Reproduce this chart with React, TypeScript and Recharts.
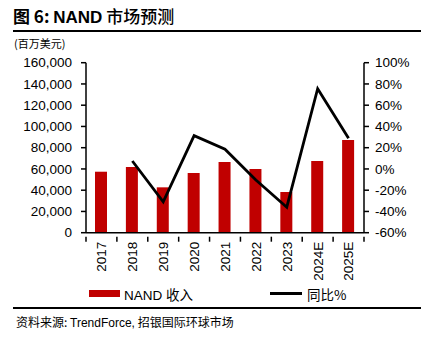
import { ComposedChart, Bar, Line, XAxis, YAxis } from "recharts";

const years = ["2017", "2018", "2019", "2020", "2021", "2022", "2023", "2024E", "2025E"];
const nandRevenue = [57400, 61800, 42700, 56200, 66500, 60000, 38300, 67500, 87200];
const yoyPct = [null, 7.5, -31, 31.3, 18.5, -10.4, -36, 75.5, 28.8];
const leftTicks = [0, 20000, 40000, 60000, 80000, 100000, 120000, 140000, 160000];
const rightTicks = [-60, -40, -20, 0, 20, 40, 60, 80, 100];

const data = years.map((y, i) => ({ year: y, rev: nandRevenue[i], yoy: yoyPct[i] }));

const FONT = "'Liberation Sans', Arial, 'Noto Sans CJK SC', sans-serif";
const CJK = "'Noto Sans CJK SC', 'Liberation Sans', sans-serif";
const RED = "#C00000";

const PLOT_LEFT = 86;
const PLOT_RIGHT = 364;
const BAND = (PLOT_RIGHT - PLOT_LEFT) / years.length;

function YearTick(props: any) {
  const { x, y, payload, index } = props;
  const left = x - BAND / 2;
  return (
    <g>
      <line x1={left} y1={y - 4} x2={left} y2={y + 1} stroke="#000" strokeWidth={1.5} />
      {index === years.length - 1 && (
        <line x1={x + BAND / 2} y1={y - 4} x2={x + BAND / 2} y2={y + 1} stroke="#000" strokeWidth={1.5} />
      )}
      <text
        x={x}
        y={y + 1}
        transform={`rotate(-90, ${x}, ${y + 1})`}
        textAnchor="end"
        dy="0.36em"
        fontSize={13.5}
        fontFamily={FONT}
        fill="#000"
      >
        {payload.value}
      </text>
    </g>
  );
}

export default function App() {
  return (
    <div style={{ position: "absolute", left: 0, top: 0, width: 424, height: 343, background: "#fff", overflow: "hidden" }}>
      <div style={{ position: "absolute", left: 13, top: 3, fontFamily: CJK, fontWeight: 700, fontSize: 17, color: "#000", whiteSpace: "nowrap" }}>
        图 6: <span style={{ fontFamily: FONT }}>NAND</span> <span style={{ fontWeight: 500 }}>市场预测</span>
      </div>
      <div style={{ position: "absolute", left: 13, top: 30, width: 408, height: 2, background: "#000" }} />
      <div style={{ position: "absolute", left: 14, top: 35, fontFamily: CJK, fontSize: 11, color: "#000" }}>
        (百万美元)
      </div>

      <div style={{ position: "absolute", left: 0, top: 0 }}>
        <ComposedChart
          width={424}
          height={300}
          data={data}
          margin={{ top: 62.7, right: 0, left: 0, bottom: 17.3 }}
          barCategoryGap={0}
        >
          <XAxis
            dataKey="year"
            xAxisId="x"
            height={50}
            axisLine={{ stroke: "#000", strokeWidth: 1.5 }}
            tickLine={false}
            tick={<YearTick />}
            interval={0}
          />
          <YAxis
            yAxisId="l"
            width={PLOT_LEFT}
            domain={[0, 160000]}
            ticks={leftTicks}
            interval={0}
            tickFormatter={(v) => v.toLocaleString("en-US")}
            axisLine={{ stroke: "#000", strokeWidth: 1.5 }}
            tickLine={{ stroke: "#000", strokeWidth: 1.5 }}
            tickSize={5}
            tickMargin={9}
            tick={{ fontSize: 13.5, fontFamily: FONT, fill: "#000" }}
          />
          <YAxis
            yAxisId="r"
            orientation="right"
            width={424 - PLOT_RIGHT}
            domain={[-60, 100]}
            ticks={rightTicks}
            interval={0}
            tickFormatter={(v) => `${v}%`}
            axisLine={{ stroke: "#000", strokeWidth: 1.5 }}
            tickLine={{ stroke: "#000", strokeWidth: 1.5 }}
            tickSize={5}
            tickMargin={6}
            tick={{ fontSize: 13.5, fontFamily: FONT, fill: "#000" }}
          />
          <Bar dataKey="rev" xAxisId="x" yAxisId="l" fill={RED} barSize={12} isAnimationActive={false} />
          <Line
            dataKey="yoy"
            xAxisId="x"
            yAxisId="r"
            stroke="#000"
            strokeWidth={2.8}
            dot={false}
            type="linear"
            isAnimationActive={false}
          />
        </ComposedChart>
      </div>

      <div style={{ position: "absolute", left: 89, top: 290, width: 31, height: 7, background: RED }} />
      <div style={{ position: "absolute", left: 124, top: 284, fontFamily: FONT, fontSize: 13.5, color: "#000", whiteSpace: "nowrap" }}>
        NAND <span style={{ fontFamily: CJK }}>收入</span>
      </div>
      <div style={{ position: "absolute", left: 270, top: 292, width: 32, height: 2.5, background: "#000" }} />
      <div style={{ position: "absolute", left: 307, top: 284, fontFamily: CJK, fontSize: 13.5, color: "#000", whiteSpace: "nowrap" }}>
        同比%
      </div>

      <div style={{ position: "absolute", left: 13, top: 307, width: 408, height: 2, background: "#000" }} />
      <div style={{ position: "absolute", left: 16, top: 313, fontFamily: CJK, fontSize: 12, color: "#000", whiteSpace: "nowrap" }}>
        资料来源: <span style={{ fontFamily: FONT }}>TrendForce,</span> 招银国际环球市场
      </div>
    </div>
  );
}
